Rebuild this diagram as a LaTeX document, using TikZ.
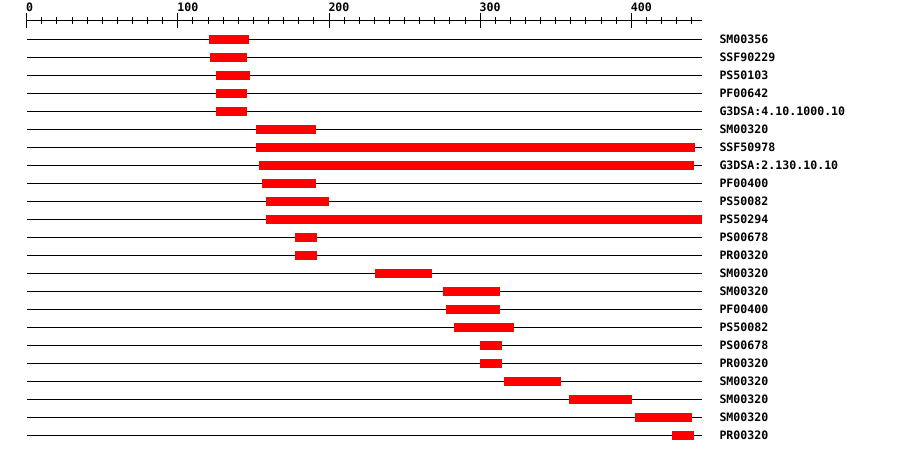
\documentclass[tikz,border=0pt]{standalone}
\usepackage{fontspec}
\setmonofont{DejaVu Sans Mono}
\begin{document}
\begin{tikzpicture}[x=1pt,y=-1pt,
  axisline/.style={line width=1pt,black},
  rowline/.style={line width=1pt,black},
  bar/.style={fill=red,draw=none},
  lbl/.style={font=\ttfamily\bfseries\fontsize{11.6}{12}\selectfont,anchor=base west,inner sep=0pt}]
\useasboundingbox (0,0) rectangle (900,454);
% axis
\coordinate (axL) at (26.7,20.5);
\coordinate (axR) at (702,20.5);
\draw[axisline] (axL) -- (axR);
\foreach \k in {0,...,44}{
  \pgfmathsetmacro{\tx}{26.7+15.115*\k}
  \pgfmathtruncatemacro{\ismaj}{mod(\k,10)==0 ? 1 : 0}
  \ifnum\ismaj=1
    \draw[axisline] (\tx,13) -- (\tx,28.5);
  \else
    \draw[axisline] (\tx,17) -- (\tx,24.5);
  \fi
}
\foreach \m in {0,...,4}{
  \pgfmathsetmacro{\tx}{26.7+151.15*\m}
  \pgfmathtruncatemacro{\val}{100*\m}
  \node[lbl] (ax\m) at (\tx-0.7,12) {\val};
}
% rows: index/start/end/label
\foreach \i/\a/\b/\t in {
  1/209/249/SM00356,
  2/210/247/SSF90229,
  3/216/250/PS50103,
  4/216/247/PF00642,
  5/216/247/G3DSA:4.10.1000.10,
  6/256/316/SM00320,
  7/256/695/SSF50978,
  8/259/694/G3DSA:2.130.10.10,
  9/262/316/PF00400,
  10/266/329/PS50082,
  11/266/702/PS50294,
  12/295/317/PS00678,
  13/295/317/PR00320,
  14/375/432/SM00320,
  15/443/500/SM00320,
  16/446/500/PF00400,
  17/454/514/PS50082,
  18/480/502/PS00678,
  19/480/502/PR00320,
  20/504/561/SM00320,
  21/569/632/SM00320,
  22/635/692/SM00320,
  23/672/694/PR00320}{
  \pgfmathsetmacro{\ry}{39.3+18*(\i-1)}
  \coordinate (l\i) at (26.7,\ry);
  \coordinate (r\i) at (702,\ry);
  \draw[rowline] (l\i) -- (r\i);
  \fill[bar] (\a,\ry-4.5) rectangle (\b,\ry+4.5);
  \node[lbl] (t\i) at (719.3,\ry+4.3) {\t};
}
\end{tikzpicture}
\end{document}
